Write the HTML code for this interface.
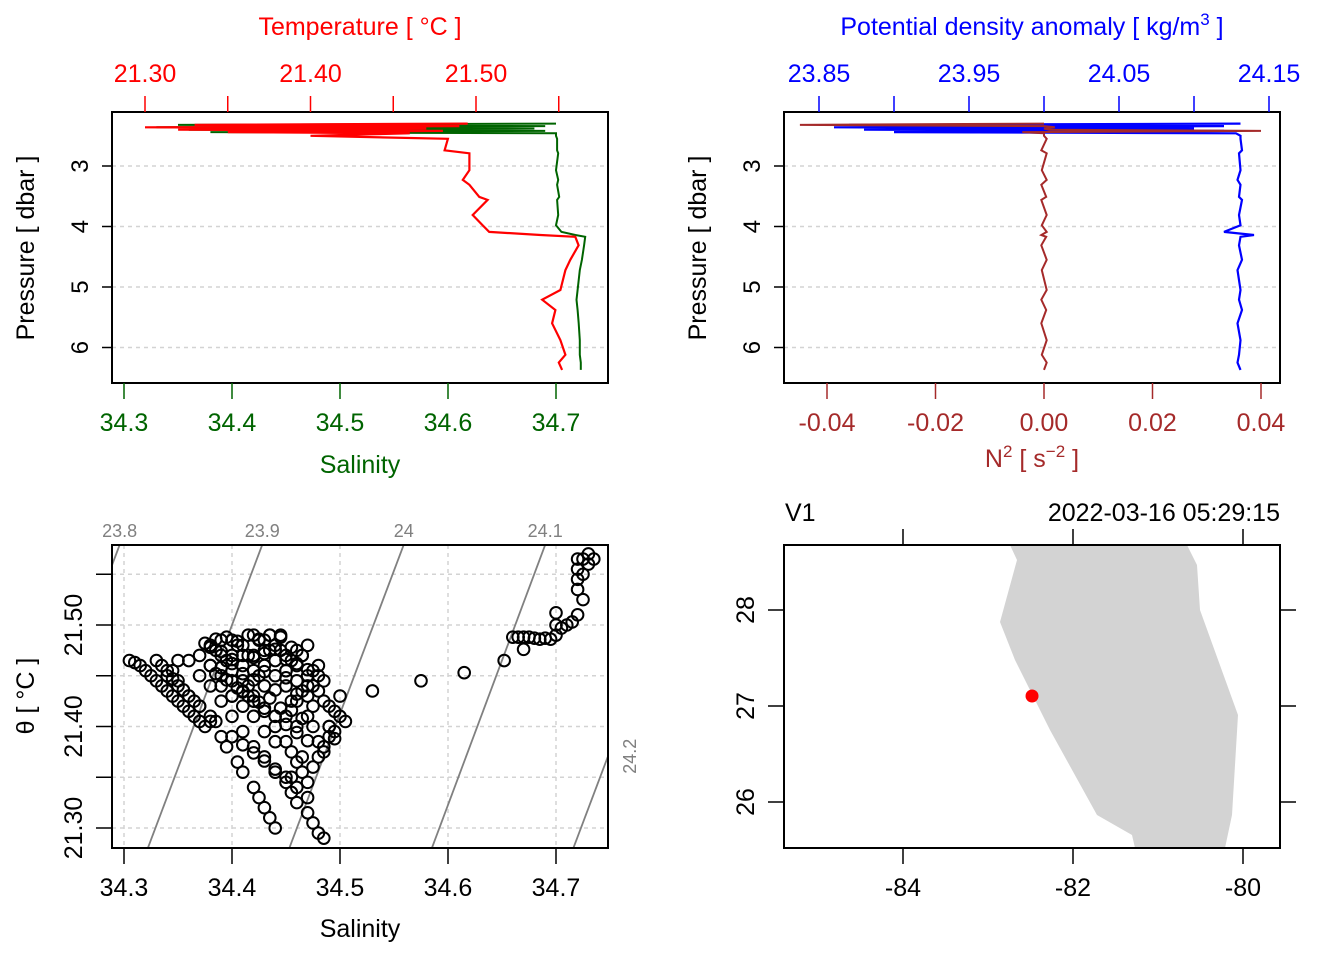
<!DOCTYPE html>
<html><head><meta charset="utf-8">
<style>
html,body{margin:0;padding:0;background:#fff;}
svg{display:block;font-family:"Liberation Sans",sans-serif;}
</style></head>
<body>
<svg id="fig" width="1344" height="960" viewBox="0 0 1344 960" xmlns="http://www.w3.org/2000/svg">
<defs>
<clipPath id="c1"><rect x="112" y="112" width="496" height="271"/></clipPath>
<clipPath id="c2"><rect x="784" y="112" width="496" height="271"/></clipPath>
<clipPath id="c3"><rect x="112" y="545" width="496" height="303"/></clipPath>
<clipPath id="c4"><rect x="784" y="545" width="496" height="303"/></clipPath>
</defs>
<g id="p1"></g>
<g id="p2"></g>
<g id="p3"></g>
<g id="p4"></g>
</svg>
<script>
// ---- profile data ----
const pressure = [2.30,2.32,2.34,2.36,2.38,2.40,2.42,2.44,2.46,2.50,2.55,2.74,2.79,3.07,3.23,3.31,3.51,3.56,3.81,3.98,4.09,4.14,4.17,4.31,4.55,4.72,5.05,5.21,5.38,5.60,5.88,6.12,6.25,6.37];
const temperature = [21.495,21.33,21.49,21.30,21.47,21.32,21.48,21.35,21.46,21.40,21.483,21.481,21.496,21.496,21.492,21.496,21.502,21.507,21.498,21.504,21.508,21.539,21.560,21.562,21.557,21.554,21.551,21.540,21.548,21.546,21.551,21.554,21.550,21.552];
const salinity = [34.700,34.35,34.69,34.33,34.68,34.36,34.69,34.38,34.70,34.700,34.701,34.701,34.702,34.700,34.702,34.701,34.703,34.701,34.702,34.700,34.705,34.718,34.727,34.726,34.724,34.722,34.720,34.719,34.720,34.721,34.722,34.722,34.723,34.723];
const sigma = [24.131,23.87,24.12,23.86,24.10,23.88,24.12,23.90,24.128,24.131,24.131,24.132,24.130,24.131,24.129,24.131,24.130,24.132,24.130,24.131,24.120,24.140,24.131,24.130,24.132,24.129,24.131,24.130,24.132,24.129,24.131,24.130,24.129,24.131];
const n2 = [0,-0.045,0.0,0.002,0.0,0.001,0.04,-0.004,0,0.0,0.0005,-0.0005,0.0005,-0.0004,0.0005,-0.0005,0.0004,-0.0005,0.0005,-0.0004,0.0005,-0.0005,0.0004,-0.0005,0.0005,-0.0004,0.0005,-0.0005,0.0004,-0.0005,0.0005,-0.0004,0.0005,0.0];
const pTicks = [3,4,5,6];
const tTicks = ["21.30","21.40","21.50"];
const tMinor = [21.35,21.45,21.55];
const sTicks = ["34.3","34.4","34.5","34.6","34.7"];
const sigTicks = ["23.85","23.95","24.05","24.15"];
const sigMinor = [23.90,24.00,24.10];
const n2Ticks = ["-0.04","-0.02","0.00","0.02","0.04"];
// ---- TS data ----
const tsS = [34.305,34.31,34.315,34.32,34.325,34.33,34.335,34.34,34.345,34.35,34.355,34.36,34.365,34.37,34.375,
34.33,34.34,34.35,34.36,34.37,34.38,34.39,34.395,34.405,34.41,34.42,34.425,34.43,34.435,34.44,
34.36,34.37,34.38,34.39,34.40,34.41,34.42,34.43,34.44,34.45,34.455,34.46,34.47,34.475,34.48,34.485,
34.38,34.39,34.40,34.41,34.42,34.43,34.44,34.45,34.455,34.46,34.465,34.47,
34.40,34.41,34.42,34.43,34.44,34.45,34.46,34.47,34.475,34.48,34.485,34.49,
34.42,34.43,34.44,34.45,34.46,34.47,34.48,34.49,34.50,34.505,34.495,34.50,
34.39,34.40,34.41,34.43,34.44,34.45,34.46,34.42,34.43,34.39,34.38,34.37,34.35,34.345,34.40,34.41,34.42,34.43,34.44,34.45,34.46,34.47,34.48,34.435,34.445,
34.385,34.395,34.405,34.415,34.425,34.435,34.445,34.455,34.465,34.475,34.485,34.415,34.425,34.455,34.465,34.475,34.485,34.495,34.40,34.41,34.42,34.45,34.46,34.47,34.48,34.49,34.455,34.465,34.475,34.485,
34.375,34.38,34.385,34.39,34.395,34.40,34.405,34.41,34.415,34.42,34.425,34.43,34.435,34.44,34.445,34.45,34.455,34.46,34.465,34.47,
34.38,34.385,34.39,34.395,34.40,34.405,34.41,34.415,34.42,34.425,34.43,34.435,34.44,34.445,34.45,34.455,34.46,34.465,34.47,34.475,
34.39,34.40,34.41,34.42,34.43,34.44,34.45,34.46,34.47,34.48,34.49,34.495,34.40,34.41,34.42,34.43,34.44,34.45,34.46,34.47,
34.335,34.34,34.345,34.35,34.355,34.36,34.365,34.37,34.38,34.385,
34.53,34.575,34.615,34.652,34.67,34.66,34.665,34.67,34.675,34.68,34.685,34.69,34.695,34.70,34.70,34.705,34.71,34.715,34.70,34.72,34.725,34.72,34.72,34.725,34.72,34.73,34.725,34.73,34.72,34.735];
const tsT = [21.465,21.463,21.46,21.455,21.45,21.445,21.44,21.435,21.43,21.425,21.42,21.415,21.41,21.405,21.40,
21.465,21.455,21.445,21.43,21.42,21.405,21.39,21.38,21.365,21.355,21.34,21.33,21.32,21.31,21.30,
21.465,21.45,21.44,21.425,21.41,21.395,21.38,21.37,21.355,21.345,21.335,21.325,21.315,21.305,21.295,21.29,
21.48,21.47,21.455,21.445,21.43,21.415,21.40,21.385,21.375,21.365,21.355,21.345,
21.485,21.48,21.47,21.46,21.45,21.44,21.425,21.41,21.40,21.385,21.375,21.39,
21.49,21.485,21.48,21.47,21.46,21.45,21.435,21.42,21.41,21.405,21.395,21.43,
21.485,21.47,21.46,21.475,21.465,21.455,21.445,21.455,21.44,21.45,21.46,21.47,21.465,21.455,21.43,21.42,21.41,21.395,21.385,21.41,21.40,21.43,21.46,21.49,21.49,
21.475,21.465,21.48,21.47,21.485,21.475,21.475,21.465,21.47,21.455,21.445,21.44,21.45,21.425,21.435,21.44,21.425,21.415,21.445,21.435,21.425,21.455,21.475,21.48,21.45,21.40,21.35,21.37,21.36,21.38,
21.482,21.478,21.486,21.474,21.488,21.466,21.484,21.47,21.49,21.468,21.486,21.472,21.49,21.476,21.488,21.466,21.478,21.462,21.47,21.456,
21.46,21.452,21.458,21.446,21.462,21.438,21.452,21.43,21.446,21.424,21.454,21.428,21.436,21.418,21.448,21.416,21.432,21.408,21.44,21.42,
21.44,21.43,21.434,21.425,21.418,21.41,21.402,21.394,21.386,21.37,21.40,21.388,21.39,21.382,21.374,21.366,21.358,21.35,21.34,21.33,
21.46,21.45,21.447,21.44,21.436,21.43,21.425,21.42,21.41,21.405,
21.435,21.445,21.453,21.465,21.476,21.488,21.488,21.488,21.488,21.487,21.486,21.487,21.486,21.49,21.50,21.497,21.50,21.503,21.512,21.51,21.525,21.535,21.545,21.55,21.555,21.56,21.565,21.57,21.565,21.565];
const isoSigma = ["23.8","23.9","24","24.1","24.2"];
const isoSTop = [34.296,34.428,34.559,34.690,34.822];
const isoSBottom = [34.190,34.322,34.453,34.585,34.716];
const tsTTicks = ["21.30","21.40","21.50"];
const tsTMinor = [21.35,21.45,21.55];
// ---- map data ----
const coastLon = [-82.741,-82.659,-82.859,-82.682,-82.271,-81.718,-81.306,-81.271,-80.212,-80.129,-80.059,-80.506,-80.541,-80.659];
const coastLat = [28.677,28.521,27.875,27.479,26.75,25.865,25.656,25.521,25.521,25.865,26.906,28.0,28.469,28.677];
const stationLon = [-82.482];
const stationLat = [27.104];
const lonTicks = [-84,-82,-80];
const latTicks = [26,27,28];

// ---- scales ----
const yP = p => 166 + (p-3)*60.5;
const xT = t => 145 + (t-21.30)*1655;
const xS = s => 124 + (s-34.3)*1080;
const xSig = s => 819 + (s-23.85)*1500;
const xN = n => 1044 + n*5425;
const yTs = t => 828 - (t-21.30)*1015;
const xLon = l => 903 + (l+84)*85;
const yLat = l => 802 - (l-26)*96;

const NS="http://www.w3.org/2000/svg";
function mk(parent,tag,attrs,text){const e=document.createElementNS(NS,tag);for(const k in attrs)e.setAttribute(k,attrs[k]);if(text!==undefined)e.textContent=text;parent.appendChild(e);return e;}

const p1=document.getElementById('p1'),p2=document.getElementById('p2'),p3=document.getElementById('p3'),p4=document.getElementById('p4');

function pressureAxis(g,x0,x1){
  pTicks.forEach(p=>{
    const y=yP(p);
    let l=mk(g,'line',{x1:x0,x2:x1,y1:y,y2:y,stroke:'#d3d3d3','stroke-width':1.5,'stroke-dasharray':'4,4'});
    
    
    let t=mk(g,'line',{x1:x0-10,x2:x0,y1:y,y2:y,stroke:'#000','stroke-width':1.5});
    
    
    let tx=mk(g,'text',{x:x0-32,y:y,'font-size':24,'text-anchor':'middle',transform:`rotate(-90 ${x0-32} ${y})`,dy:8},String(p));
    
    
  });
  let tt=mk(g,'text',{x:x0-86,y:248,'font-size':25,'text-anchor':'middle',transform:`rotate(-90 ${x0-86} 248)`,dy:8},'Pressure [ dbar ]');
  
  
}
function polyline(g,xs,ys,color,clip,name,w){
  const pts=xs.map((x,i)=>x.toFixed(1)+','+ys[i].toFixed(1)).join(' ');
  const e=mk(g,'polyline',{points:pts,fill:'none',stroke:color,'stroke-width':w||2,'clip-path':`url(#${clip})`});
  
  
}
function box(g,x,y,w,h,name){const b=mk(g,'rect',{x:x,y:y,width:w,height:h,fill:'none',stroke:'#000','stroke-width':2});
  
  }
function tickTop(g,x,y0,color,label,name){
  const l=mk(g,'line',{x1:x,x2:x,y1:y0-16,y2:y0,stroke:color,'stroke-width':1.5});
  
  
  if(label!==null){const t=mk(g,'text',{x:x,y:y0-30,'font-size':25,'text-anchor':'middle',fill:color},label);
    
    }
}
function tickBottom(g,x,y0,color,label,name){
  const l=mk(g,'line',{x1:x,x2:x,y1:y0,y2:y0+16,stroke:color,'stroke-width':1.5});
  
  
  if(label!==null){const t=mk(g,'text',{x:x,y:y0+48,'font-size':25,'text-anchor':'middle',fill:color},label);
    
    }
}

// ---- Panel 1 ----
pressureAxis(p1,112,608);
const ys1=pressure.map(yP);
polyline(p1,salinity.map(xS),ys1,'#006400','c1','salinity-line',2);
polyline(p1,temperature.map(xT),ys1,'#ff0000','c1','temperature-line',2.2);
box(p1,112,112,496,271,'profile-plot-box');
tTicks.forEach(t=>tickTop(p1,xT(+t),112,'#ff0000',t,'temperature'));
tMinor.forEach(t=>tickTop(p1,xT(t),112,'#ff0000',null,'temperature-minor'));
sTicks.forEach(s=>tickBottom(p1,xS(+s),383,'#006400',s,'salinity'));
{let t=mk(p1,'text',{x:360,y:35,'font-size':25,'text-anchor':'middle',fill:'#ff0000'},'Temperature [ °C ]');


let s=mk(p1,'text',{x:360,y:473,'font-size':25,'text-anchor':'middle',fill:'#006400'},'Salinity');

}

// ---- Panel 2 ----
pressureAxis(p2,784,1280);
polyline(p2,sigma.map(xSig),ys1,'#0000ff','c2','density-line',2.2);
polyline(p2,n2.map(xN),ys1,'#a52a2a','c2','n2-line',2);
box(p2,784,112,496,271,'density-plot-box');
sigTicks.forEach(s=>tickTop(p2,xSig(+s),112,'#0000ff',s,'density'));
sigMinor.forEach(s=>tickTop(p2,xSig(s),112,'#0000ff',null,'density-minor'));
n2Ticks.forEach(n=>tickBottom(p2,xN(+n),383,'#a52a2a',n,'n2'));
{let t=mk(p2,'text',{x:1032,y:35,'font-size':25,'text-anchor':'middle',fill:'#0000ff'});
t.innerHTML='Potential density anomaly [ kg/m<tspan dy="-10" font-size="17">3</tspan><tspan dy="10"> ]</tspan>';


let s=mk(p2,'text',{x:1032,y:467,'font-size':25,'text-anchor':'middle',fill:'#a52a2a'});
s.innerHTML='N<tspan dy="-10" font-size="17">2</tspan><tspan dy="10"> [ s</tspan><tspan dy="-10" font-size="17">−2</tspan><tspan dy="10"> ]</tspan>';

}

// ---- Panel 3 ----
sTicks.forEach(s=>{const x=xS(+s);
  const l=mk(p3,'line',{x1:x,x2:x,y1:545,y2:848,stroke:'#d3d3d3','stroke-width':1.5,'stroke-dasharray':'4,4'});
  
  });
tsTTicks.map(Number).concat(tsTMinor).forEach(t=>{const y=yTs(t);
  const l=mk(p3,'line',{x1:112,x2:608,y1:y,y2:y,stroke:'#d3d3d3','stroke-width':1.5,'stroke-dasharray':'4,4'});
  
  });
const tTop=21.579,tBot=21.280;
isoSigma.forEach((lab,i)=>{
  const xa=xS(isoSTop[i]),ya=yTs(tTop),xb=xS(isoSBottom[i]),yb=yTs(tBot);
  const l=mk(p3,'line',{x1:xa,y1:ya,x2:xb,y2:yb,stroke:'#808080','stroke-width':1.8,'clip-path':'url(#c3)'});
  
  
  let t;
  if(xa<=608){t=mk(p3,'text',{x:xa,y:537,'font-size':18,'text-anchor':'middle',fill:'#808080'},lab);}
  else{const yr=ya+(608-xa)*(yb-ya)/(xb-xa);t=mk(p3,'text',{x:630,y:yr,'font-size':18,'text-anchor':'middle',fill:'#808080',transform:`rotate(-90 630 ${yr})`,dy:6},lab);}
  
  
});
const gpts=mk(p3,'g',{'clip-path':'url(#c3)'});


tsS.forEach((s,i)=>{const c=mk(gpts,'circle',{cx:xS(s),cy:yTs(tsT[i]),r:5.8,fill:'none',stroke:'#000','stroke-width':2});
  
  });
box(p3,112,545,496,303,'ts-plot-box');
sTicks.forEach(s=>tickBottom(p3,xS(+s),848,'#000',s,'ts-salinity'));
tsTTicks.forEach(t=>{const y=yTs(+t);
  const l=mk(p3,'line',{x1:96,x2:112,y1:y,y2:y,stroke:'#000','stroke-width':1.5});
  
  
  const tx=mk(p3,'text',{x:74,y:y,'font-size':25,'text-anchor':'middle',transform:`rotate(-90 74 ${y})`,dy:8},t);
  
  });
tsTMinor.forEach(t=>{const y=yTs(t);
  const l=mk(p3,'line',{x1:96,x2:112,y1:y,y2:y,stroke:'#000','stroke-width':1.5});
  
  });
{let t=mk(p3,'text',{x:360,y:937,'font-size':25,'text-anchor':'middle'},'Salinity');


let s=mk(p3,'text',{x:26,y:696,'font-size':25,'text-anchor':'middle',transform:'rotate(-90 26 696)',dy:8},'θ [ °C ]');

}

// ---- Panel 4 ----
{const pts=coastLon.map((l,i)=>xLon(l).toFixed(1)+','+yLat(coastLat[i]).toFixed(1)).join(' ');
const poly=mk(p4,'polygon',{points:pts,fill:'#d3d3d3',stroke:'none','clip-path':'url(#c4)'});


stationLon.forEach((l,i)=>{const c=mk(p4,'circle',{cx:xLon(l),cy:yLat(stationLat[i]),r:6.5,fill:'#ff0000'});
  
  });}
box(p4,784,545,496,303,'map-plot-box');
lonTicks.forEach(l=>{const x=xLon(l);
  tickBottom(p4,x,848,'#000',String(l),'longitude');
  const t=mk(p4,'line',{x1:x,x2:x,y1:529,y2:545,stroke:'#000','stroke-width':1.5});
  
  });
latTicks.forEach(l=>{const y=yLat(l);
  const a=mk(p4,'line',{x1:768,x2:784,y1:y,y2:y,stroke:'#000','stroke-width':1.5});
  
  
  const b=mk(p4,'line',{x1:1280,x2:1296,y1:y,y2:y,stroke:'#000','stroke-width':1.5});
  
  
  const tx=mk(p4,'text',{x:746,y:y,'font-size':25,'text-anchor':'middle',transform:`rotate(-90 746 ${y})`,dy:8},String(l));
  
  });
{let t=mk(p4,'text',{x:785,y:521,'font-size':25},'V1');


let d=mk(p4,'text',{x:1280,y:521,'font-size':25,'text-anchor':'end'},'2022-03-16 05:29:15');

}
</script>
</body></html>
